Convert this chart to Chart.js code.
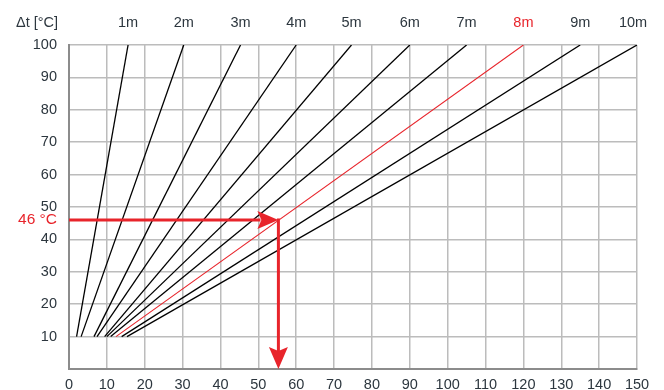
<!DOCTYPE html>
<html lang="en">
<head>
  <meta charset="UTF-8">
  <title>Thermal expansion chart</title>
  <style>
    html, body { margin: 0; padding: 0; background: #fff; overflow: hidden; }
    .wrap { width: 664px; height: 400px; position: relative; }
  </style>
</head>
<body>
  <div class="wrap"><canvas id="chart"></canvas></div>

  <script src="https://cdn.jsdelivr.net/npm/chart.js"></script>
  <script>
    // pipe lengths and where each line starts (at 10 °C) and ends (at 100 °C), in mm
    const lengths = ['1m', '2m', '3m', '4m', '5m', '6m', '7m', '8m', '9m', '10m'];
    const startX = [2, 3.2, 6.6, 7.4, 9.4, 10, 11, 12.4, 13.9, 15.3];
    const endX = [15.6, 30.3, 45.3, 60, 74.6, 90, 105, 120, 135, 150];
    const yStart = 10;
    const yEnd = 100;
    const highlight = '8m';

    // worked example
    const exampleDt = 46;
    const exampleDl = 55.3;

    const xTicks = [0, 10, 20, 30, 40, 50, 60, 70, 80, 90, 100, 110, 120, 130, 140, 150];
    const yTicks = [10, 20, 30, 40, 50, 60, 70, 80, 90, 100];

    const RED = '#e8242b';
    const TEXT = '#2c363e';
    const FONT = '"Liberation Sans", Arial, sans-serif';
    const FSIZE = 14.5;

    const datasets = lengths.map((name, i) => ({
      label: name,
      data: [{ x: startX[i], y: yStart }, { x: endX[i], y: yEnd }],
      borderColor: name === highlight ? RED : '#000',
      borderWidth: name === highlight ? 1.1 : 1.3,
      pointRadius: 0,
      fill: false
    }));

    // red arrows + extra labels
    const annotate = {
      id: 'annotate',
      afterDatasetsDraw(chart) {
        const ctx = chart.ctx;
        const xs = chart.scales.x, ys = chart.scales.y;
        const x0 = xs.getPixelForValue(0);
        const xe = xs.getPixelForValue(exampleDl);
        const ye = ys.getPixelForValue(exampleDt);
        const yb = ys.getPixelForValue(0);
        ctx.save();
        ctx.strokeStyle = RED;
        ctx.fillStyle = RED;
        ctx.lineWidth = 3;
        // horizontal arrow
        ctx.beginPath();
        ctx.moveTo(x0, ye);
        ctx.lineTo(xe - 18, ye);
        ctx.stroke();
        ctx.beginPath();
        ctx.moveTo(xe, ye);
        ctx.lineTo(xe - 21, ye - 9);
        ctx.lineTo(xe - 17, ye);
        ctx.lineTo(xe - 21, ye + 9);
        ctx.closePath();
        ctx.fill();
        // vertical arrow
        ctx.beginPath();
        ctx.moveTo(xe, ye - 1.5);
        ctx.lineTo(xe, yb - 18);
        ctx.stroke();
        ctx.beginPath();
        ctx.moveTo(xe, yb);
        ctx.lineTo(xe - 9.5, yb - 22);
        ctx.lineTo(xe, yb - 18);
        ctx.lineTo(xe + 9.5, yb - 22);
        ctx.closePath();
        ctx.fill();

        // labels
        ctx.font = '15.5px ' + FONT;
        ctx.textBaseline = 'middle';
        ctx.textAlign = 'right';
        ctx.fillText(exampleDt + ' °C', chart.chartArea.left - 12, ye);
        ctx.font = FSIZE + 'px ' + FONT;
        ctx.fillStyle = TEXT;
        ctx.textAlign = 'left';
        ctx.fillText('Δt [°C]', 16, 23);
        ctx.textAlign = 'center';
        lengths.forEach((name, i) => {
          ctx.fillStyle = name === highlight ? RED : TEXT;
          const px = Math.min(xs.getPixelForValue(endX[i]), chart.chartArea.right - 4);
          ctx.fillText(name, px, 23);
        });
        ctx.restore();
      }
    };

    new Chart(document.getElementById('chart'), {
      type: 'line',
      data: { datasets },
      options: {
        responsive: true,
        maintainAspectRatio: false,
        animation: false,
        layout: { padding: { top: 45, right: 27, left: 0, bottom: 0 } },
        plugins: { legend: { display: false }, tooltip: { enabled: false } },
        scales: {
          x: {
            type: 'linear',
            min: 0,
            max: 150,
            afterBuildTicks: (s) => { s.ticks = xTicks.map(v => ({ value: v })); },
            afterFit: (s) => { s.height = 31; },
            grid: { color: '#bcbcbc', lineWidth: 1.5, drawTicks: false },
            border: { color: '#8c8c8c', width: 2 },
            ticks: { color: TEXT, font: { family: FONT, size: FSIZE }, padding: 7, maxRotation: 0 }
          },
          y: {
            min: 0,
            max: 100,
            afterBuildTicks: (s) => { s.ticks = [0].concat(yTicks).map(v => ({ value: v })); },
            afterFit: (s) => { s.width = 69; },
            grid: { color: '#bcbcbc', lineWidth: 1.5, drawTicks: false },
            border: { color: '#8c8c8c', width: 2 },
            ticks: {
              color: TEXT,
              font: { family: FONT, size: FSIZE },
              padding: 12,
              callback: (v) => (v === 0 ? '' : v)
            }
          }
        }
      },
      plugins: [annotate]
    });
  </script>
</body>
</html>
